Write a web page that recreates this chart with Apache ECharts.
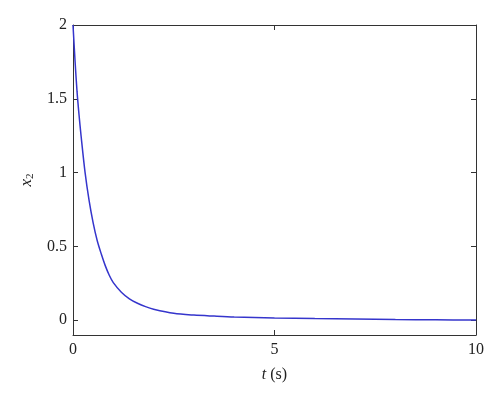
<!DOCTYPE html>
<html><head><meta charset="utf-8">
<script src="https://cdn.jsdelivr.net/npm/echarts@6/dist/echarts.min.js"></script>
<style>html,body{margin:0;padding:0;background:#fff}#c{width:500px;height:401px}</style>
</head><body><div id="c"></div>
<script>
const tValues = [0, 0.05, 0.1, 0.15, 0.2, 0.3, 0.4, 0.5, 0.6, 0.7, 0.8, 0.9, 1.0, 1.2, 1.4, 1.6, 1.8, 2.0, 2.5, 3, 3.5, 4, 5, 6, 7, 8, 9, 10];
const x2Values = [2, 1.76, 1.55, 1.39, 1.25, 1.0, 0.81, 0.66, 0.54, 0.45, 0.37, 0.305, 0.255, 0.19, 0.145, 0.115, 0.092, 0.075, 0.047, 0.035, 0.028, 0.022, 0.015, 0.011, 0.008, 0.005, 0.003, 0.001];
const xTicks = [0, 5, 10];
const yTicks = [0, 0.5, 1, 1.5, 2];

const font = '"Liberation Serif", "DejaVu Serif", serif';
const axisCol = '#333';
const txt = '#222';
const chart = echarts.init(document.getElementById('c'));
const data = tValues.map((t, i) => [t, x2Values[i]]);
chart.setOption({
  animation: false,
  textStyle: {fontFamily: font},
  grid: {left: 73, top: 25, right: 24, bottom: 66},
  xAxis: [{
    type: 'value', min: 0, max: 10, position: 'bottom',
    axisLine: {onZero: false, lineStyle: {color: axisCol, width: 1}},
    axisTick: {inside: true, length: 5, customValues: xTicks, lineStyle: {color: axisCol}},
    axisLabel: {customValues: xTicks, fontFamily: font, fontSize: 16, color: txt, margin: 7},
    splitLine: {show: false},
    name: '{i|t} (s)', nameLocation: 'middle', nameGap: 32,
    nameTextStyle: {fontFamily: font, fontSize: 16, color: txt,
      rich: {i: {fontStyle: 'italic', fontFamily: font, fontSize: 16, color: txt}}}
  }, {
    type: 'value', min: 0, max: 10, position: 'top',
    axisLine: {show: true, onZero: false, lineStyle: {color: axisCol, width: 1}},
    axisTick: {show: true, inside: true, length: 5, customValues: xTicks, lineStyle: {color: axisCol}},
    axisLabel: {show: false}, splitLine: {show: false}
  }],
  yAxis: [{
    type: 'value', min: -0.1, max: 2, position: 'left',
    axisLine: {show: true, onZero: false, lineStyle: {color: axisCol, width: 1}},
    axisTick: {show: true, inside: true, length: 5, customValues: yTicks, lineStyle: {color: axisCol}},
    axisLabel: {customValues: yTicks, fontFamily: font, fontSize: 16, color: txt, margin: 6},
    splitLine: {show: false},
    name: '{i|x}{s|2}', nameLocation: 'middle', nameGap: 33, nameRotate: 90,
    nameTextStyle: {fontFamily: font, fontSize: 17, color: txt,
      rich: {i: {fontStyle: 'italic', fontFamily: font, fontSize: 17, color: txt},
             s: {fontFamily: font, fontSize: 11, color: txt, verticalAlign: 'bottom', padding: [8, 0, 0, 0]}}}
  }, {
    type: 'value', min: -0.1, max: 2, position: 'right',
    axisLine: {show: true, onZero: false, lineStyle: {color: axisCol, width: 1}},
    axisTick: {show: true, inside: true, length: 5, customValues: yTicks, lineStyle: {color: axisCol}},
    axisLabel: {show: false}, splitLine: {show: false}
  }],
  series: [{
    type: 'line', data: data, smooth: 0.3, showSymbol: false,
    lineStyle: {color: '#3535cc', width: 1.5}
  }]
});
</script></body></html>
